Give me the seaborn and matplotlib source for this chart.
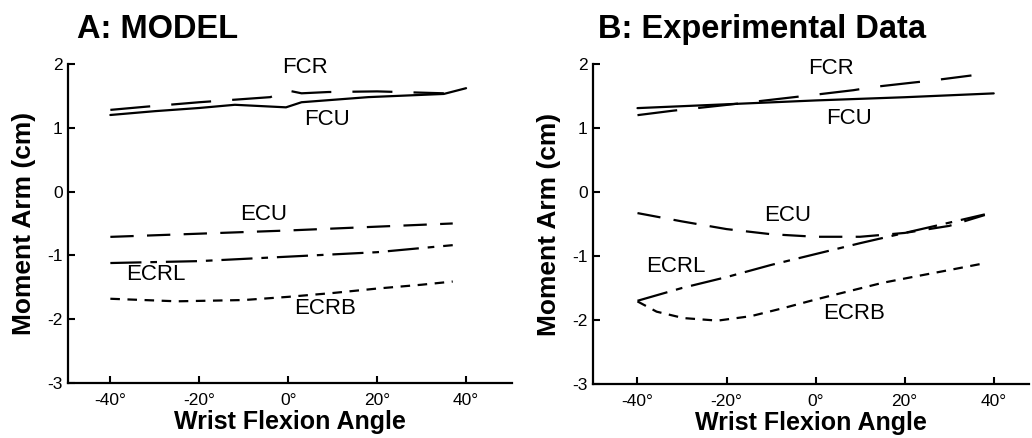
import pandas as pd
import matplotlib
matplotlib.use("Agg")
import matplotlib.pyplot as plt
import seaborn as sns

# Panel A: model
a_fcr_x = [-40, -32, -20, -10, -4, -0.5, 3, 9, 20, 35]
a_fcr_y = [1.28, 1.33, 1.40, 1.45, 1.48, 1.59, 1.54, 1.56, 1.57, 1.54]
a_fcu_x = [-40, -30, -20, -12, -0.5, 3, 18, 35, 40]
a_fcu_y = [1.20, 1.26, 1.31, 1.36, 1.32, 1.40, 1.48, 1.53, 1.62]
a_ecu_x = [-40, -20, 0, 20, 37]
a_ecu_y = [-0.71, -0.66, -0.61, -0.55, -0.50]
a_ecrl_x = [-40, -20, 0, 20, 37]
a_ecrl_y = [-1.12, -1.09, -1.02, -0.95, -0.84]
a_ecrb_x = [-40, -25, -10, 0, 10, 20, 30, 37]
a_ecrb_y = [-1.68, -1.72, -1.70, -1.65, -1.59, -1.52, -1.46, -1.41]

# Panel B: experimental data
b_fcr_x = [-40, -32, -20, -10, 0, 8.5, 13, 22, 26, 35]
b_fcr_y = [1.20, 1.27, 1.36, 1.44, 1.52, 1.59, 1.64, 1.71, 1.74, 1.82]
b_fcu_x = [-40, -20, 0, 20, 40]
b_fcu_y = [1.31, 1.37, 1.43, 1.48, 1.54]
b_ecu_x = [-40, -30, -20, -10, 0, 10, 20, 30, 38]
b_ecu_y = [-0.33, -0.46, -0.58, -0.66, -0.70, -0.70, -0.64, -0.53, -0.36]
b_ecrl_x = [-40, -30, -20, -10, 0, 10, 20, 30, 38]
b_ecrl_y = [-1.70, -1.50, -1.33, -1.14, -0.97, -0.80, -0.64, -0.48, -0.35]
b_ecrb_x = [-40, -35.7, -29.7, -22, -14.5, -7, 0, 7.5, 15, 22.4, 30, 38.2]
b_ecrb_y = [-1.71, -1.87, -1.97, -2.01, -1.94, -1.81, -1.68, -1.55, -1.42, -1.32, -1.22, -1.11]

muscles = ["FCR", "FCU", "ECU", "ECRL", "ECRB"]
x_ticks = [-40, -20, 0, 20, 40]
x_tick_labels = ["-40°", "-20°", "0°", "20°", "40°"]
y_ticks = [-3, -2, -1, 0, 1, 2]
y_tick_labels = ["-3", "-2", "-1", "0", "1", "2"]

# label positions (angle, moment) per panel
a_label_pos = {"FCR": (3.8, 1.94), "FCU": (8.8, 1.13), "ECU": (-5.6, -0.36),
               "ECRL": (-29.7, -1.30), "ECRB": (8.3, -1.84)}
b_label_pos = {"FCR": (3.4, 1.93), "FCU": (7.4, 1.15), "ECU": (-6.3, -0.37),
               "ECRL": (-31.5, -1.16), "ECRB": (8.6, -1.90)}

dash_styles = {
    "FCR": (18, 9.5),
    "FCU": "",
    "ECU": (10.5, 6),
    "ECRL": (14, 4, 3, 4),
    "ECRB": (4.3, 3.4),
}


def build_frame(series):
    rows = []
    for name, (xs, ys) in series.items():
        for x, y in zip(xs, ys):
            rows.append({"angle": x, "moment": y, "muscle": name})
    return pd.DataFrame(rows)


df_a = build_frame({"FCR": (a_fcr_x, a_fcr_y), "FCU": (a_fcu_x, a_fcu_y),
                    "ECU": (a_ecu_x, a_ecu_y), "ECRL": (a_ecrl_x, a_ecrl_y),
                    "ECRB": (a_ecrb_x, a_ecrb_y)})
df_b = build_frame({"FCR": (b_fcr_x, b_fcr_y), "FCU": (b_fcu_x, b_fcu_y),
                    "ECU": (b_ecu_x, b_ecu_y), "ECRL": (b_ecrl_x, b_ecrl_y),
                    "ECRB": (b_ecrb_x, b_ecrb_y)})

sns.set_style("ticks")
plt.rcParams["font.family"] = ["Liberation Sans", "DejaVu Sans"]
plt.rcParams["text.color"] = "black"
plt.rcParams["axes.labelcolor"] = "black"
plt.rcParams["xtick.color"] = "black"
plt.rcParams["ytick.color"] = "black"

fig = plt.figure(figsize=(10.32, 4.38), dpi=100)
ax_a = fig.add_axes([0.066, 0.1256, 0.430, 0.7284])
ax_b = fig.add_axes([0.575, 0.1233, 0.422, 0.7307])


def draw_panel(ax, df, label_pos, xlim):
    sns.lineplot(data=df, x="angle", y="moment", style="muscle",
                 style_order=muscles, dashes=dash_styles, color="black",
                 linewidth=1.6, estimator=None, legend=False, ax=ax)
    for name, (x, y) in label_pos.items():
        ax.text(x, y, name, ha="center", va="center", fontsize=16)
    ax.set_xlim(*xlim)
    ax.set_ylim(-3, 2)
    ax.set_xticks(x_ticks)
    ax.set_xticklabels(x_tick_labels, fontsize=12.5)
    ax.set_yticks(y_ticks)
    ax.set_yticklabels(y_tick_labels, fontsize=12.5)
    ax.tick_params(direction="in", length=5, width=1.5, color="black")
    ax.tick_params(axis="x", pad=7)
    ax.tick_params(axis="y", pad=4)
    for side in ["top", "right"]:
        ax.spines[side].set_visible(False)
    for side in ["left", "bottom"]:
        ax.spines[side].set_linewidth(1.6)
        ax.spines[side].set_color("black")
    ax.set_xlabel("Wrist Flexion Angle", fontsize=18, fontweight="bold", labelpad=2)
    ax.set_ylabel("Moment Arm (cm)", fontsize=19, fontweight="bold", labelpad=8)


draw_panel(ax_a, df_a, a_label_pos, (-49.5, 50.3))
draw_panel(ax_b, df_b, b_label_pos, (-49.9, 47.9))

fig.text(77 / 1032, 1 - 38 / 438, "A: MODEL", fontsize=23.5, fontweight="bold", va="baseline")
fig.text(598 / 1032, 1 - 38 / 438, "B: Experimental Data", fontsize=23.5, fontweight="bold", va="baseline")

fig.savefig("out.png", dpi=100)
